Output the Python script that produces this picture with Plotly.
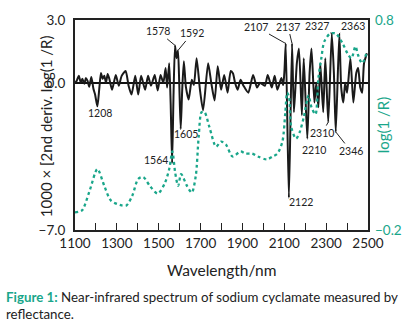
import plotly.graph_objects as go

# ---- data -------------------------------------------------------------
deriv_wl = [1100, 1108, 1118, 1128, 1135, 1145, 1152, 1160, 1168, 1178, 1188, 1196, 1207,
            1216, 1224, 1232, 1240, 1248, 1256, 1264, 1277, 1295, 1309, 1323, 1342, 1356,
            1370, 1388, 1402, 1416, 1435, 1449, 1463, 1481, 1495, 1509, 1522, 1533, 1540,
            1550, 1557, 1564, 1571, 1578, 1585, 1592, 1598, 1605, 1612, 1620, 1630, 1643,
            1658, 1668, 1681, 1697, 1712, 1736, 1751, 1767, 1782, 1798, 1813, 1829, 1844,
            1855, 1865, 1877, 1891, 1905, 1928, 1951, 1970, 1984, 2007, 2021, 2040, 2054,
            2067, 2086, 2095, 2101, 2107, 2122, 2137, 2146, 2160, 2170, 2184, 2193, 2210,
            2221, 2230, 2244, 2253, 2263, 2272, 2286, 2296, 2310, 2327, 2337, 2346, 2363,
            2372, 2382, 2391, 2400, 2416, 2430, 2444, 2453, 2463, 2472, 2481, 2495]
deriv_val = [0.01, 0.10, 0.34, 0.01, 0.20, -0.04, 0.24, 0.10, -0.18, 0.29, -0.27, -0.55, -1.11,
             -0.27, 0.48, 0.20, 0.34, 0.01, 0.43, 0.20, -0.32, 0.38, -0.13, 0.34, 0.57, -0.13,
             -0.55, 0.34, -0.55, 0.34, -0.32, 0.34, -0.13, 0.38, -0.36, 0.38, 0.01, 0.71, -0.22,
             0.94, -0.93, -3.82, -0.46, 1.79, 1.18, 1.55, 0.01, -2.19, -0.40, 1.04, -0.20, -0.79,
             0.15, -0.10, 1.18, -0.32, -1.30, 0.94, 0.01, -0.83, 0.80, -0.32, 0.38, -0.46, 0.57,
             0.45, 0.00, -0.32, 0.15, -0.13, -0.46, 0.38, -0.22, 0.01, -0.13, 0.38, -0.22, 0.34,
             -0.32, 0.24, -0.10, 0.62, 1.88, -5.46, 1.88, -1.39, 0.94, 1.64, -1.53, 1.18, -2.65,
             0.48, 1.64, -0.93, 0.01, -1.16, 0.94, -1.39, 1.18, -1.86, 2.35, 0.48, -2.33, 2.35,
             -0.22, -0.93, 0.01, -0.46, 1.18, -0.93, 0.48, 0.71, -0.22, -0.46, 0.94, 1.41]

abs_wl = [1100, 1133, 1170, 1207, 1240, 1272, 1323, 1346, 1374, 1402, 1426, 1458, 1495, 1528,
          1551, 1565, 1579, 1593, 1607, 1635, 1658, 1677, 1691, 1705, 1719, 1742, 1774, 1798,
          1821, 1853, 1891, 1914, 1946, 1974, 2016, 2044, 2067, 2091, 2105, 2114, 2123, 2133,
          2156, 2174, 2193, 2216, 2230, 2249, 2263, 2277, 2291, 2319, 2347, 2379, 2402, 2421,
          2440, 2453, 2472, 2495]
abs_val = [-0.116, -0.107, -0.013, 0.090, 0.010, -0.060, -0.083, -0.083, -0.036, 0.043, 0.052,
           0.010, -0.027, 0.020, 0.094, 0.174, 0.071, 0.010, 0.066, 0.010, -0.022, 0.057, 0.244,
           0.361, 0.361, 0.291, 0.197, 0.221, 0.207, 0.150, 0.174, 0.164, 0.164, 0.150, 0.136,
           0.150, 0.164, 0.221, 0.361, 0.454, 0.431, 0.291, 0.235, 0.267, 0.337, 0.440, 0.384,
           0.351, 0.524, 0.618, 0.697, 0.735, 0.735, 0.688, 0.641, 0.618, 0.674, 0.632, 0.594,
           0.650]

x_ticks = [1100, 1200, 1300, 1400, 1500, 1600, 1700, 1800, 1900, 2000, 2100, 2200, 2300, 2400, 2500]
x_ticklabels = ["1100", "", "1300", "", "1500", "", "1700", "", "1900", "", "2100", "", "2300", "", "2500"]
y1_ticks = [-7.0, 0.0, 3.0]
y1_ticklabels = ["\u22127.0", "0.0", "3.0"]
y2_ticks = [-0.2, 0.8]
y2_ticklabels = ["\u22120.2", "0.8"]

# labelled bands: (wavelength, arrow offset x, arrow offset y)
arrow_labels = [(1578, -17, -14), (1592, 14, -17), (2107, -30, -17), (2137, -4, -17),
                (2327, -15, -8), (2363, 14, -8), (2310, -6, 11), (2346, 15, 19)]
# plain labels: (wavelength, label x, label y)
plain_labels = [(1208, 1221, -1.44), (1605, 1630, -2.42), (1564, 1486, -3.68),
                (2210, 2240, -3.2), (2122, 2179, -5.69)]

TEAL = "#19a68a"
INK = "#222222"
FONT = "Lato, 'Open Sans', sans-serif"

fig = go.Figure()
fig.add_trace(go.Scatter(x=abs_wl, y=abs_val, yaxis="y2", mode="lines",
                         line=dict(color=TEAL, width=2.3, dash="3px,3px", shape="spline", smoothing=0.8),
                         hoverinfo="skip", showlegend=False))
fig.add_trace(go.Scatter(x=deriv_wl, y=deriv_val, mode="lines",
                         line=dict(color="#1a1a1a", width=2, shape="spline", smoothing=0.6),
                         hoverinfo="skip", showlegend=False))

lookup = dict(zip(deriv_wl, deriv_val))
anns = []
for wl, axo, ayo in arrow_labels:
    anns.append(dict(x=wl, y=lookup[wl], xref="x", yref="y", text=str(wl), showarrow=True,
                     arrowhead=0, arrowwidth=1, arrowcolor=INK, ax=axo, ay=ayo,
                     font=dict(size=10.5, color=INK, family=FONT)))
for wl, lx, ly in plain_labels:
    anns.append(dict(x=lx, y=ly, xref="x", yref="y", text=str(wl), showarrow=False,
                     font=dict(size=10.5, color=INK, family=FONT)))

# axis titles
anns.append(dict(x=0.5, y=-0.14, xref="paper", yref="paper", yanchor="top",
                 text="Wavelength/nm", showarrow=False, font=dict(size=15.5, color=INK, family=FONT)))
anns.append(dict(x=-0.136, y=0.495, xref="paper", yref="paper", textangle=-90,
                 text="1000 \u00d7 [2nd deriv. log(1 /R)", showarrow=False,
                 font=dict(size=15, color=INK, family=FONT)))
anns.append(dict(x=1.09, y=0.5, xref="paper", yref="paper", textangle=-90,
                 text="log(1 /R)", showarrow=False, font=dict(size=15, color=TEAL, family=FONT)))
# caption
anns.append(dict(x=-0.243, y=-0.27, xref="paper", yref="paper", xanchor="left", yanchor="top",
                 align="left", showarrow=False,
                 text="<b><span style='color:%s'>Figure 1:</span></b> Near-infrared spectrum of sodium cyclamate measured by<br>reflectance." % TEAL,
                 font=dict(size=13.3, color=INK, family=FONT)))

fig.update_layout(
    width=414, height=324,
    margin=dict(l=75, r=38, t=16, b=94),
    paper_bgcolor="white", plot_bgcolor="white",
    font=dict(family=FONT, color=INK),
    xaxis=dict(range=[1100, 2500], tickvals=x_ticks, ticktext=x_ticklabels,
               ticks="inside", ticklen=7, tickwidth=1.3, tickcolor=INK,
               showline=True, linecolor=INK, linewidth=2, mirror=True,
               showgrid=False, zeroline=False, tickfont=dict(size=13.5, color=INK)),
    yaxis=dict(range=[-7, 3], tickvals=y1_ticks, ticktext=y1_ticklabels, ticks="",
               ticklabelstandoff=5,
               showline=True, linecolor=INK, linewidth=2, mirror=True,
               showgrid=False, zeroline=True, zerolinecolor="#111111", zerolinewidth=1.5,
               tickfont=dict(size=13.5, color=INK)),
    yaxis2=dict(range=[-0.2, 0.8], tickvals=y2_ticks, ticktext=y2_ticklabels, ticks="",
                ticklabelstandoff=6,
                overlaying="y", side="right", showgrid=False, zeroline=False,
                tickfont=dict(size=13.5, color=TEAL)),
    annotations=anns,
)

fig.write_html("out.html")
